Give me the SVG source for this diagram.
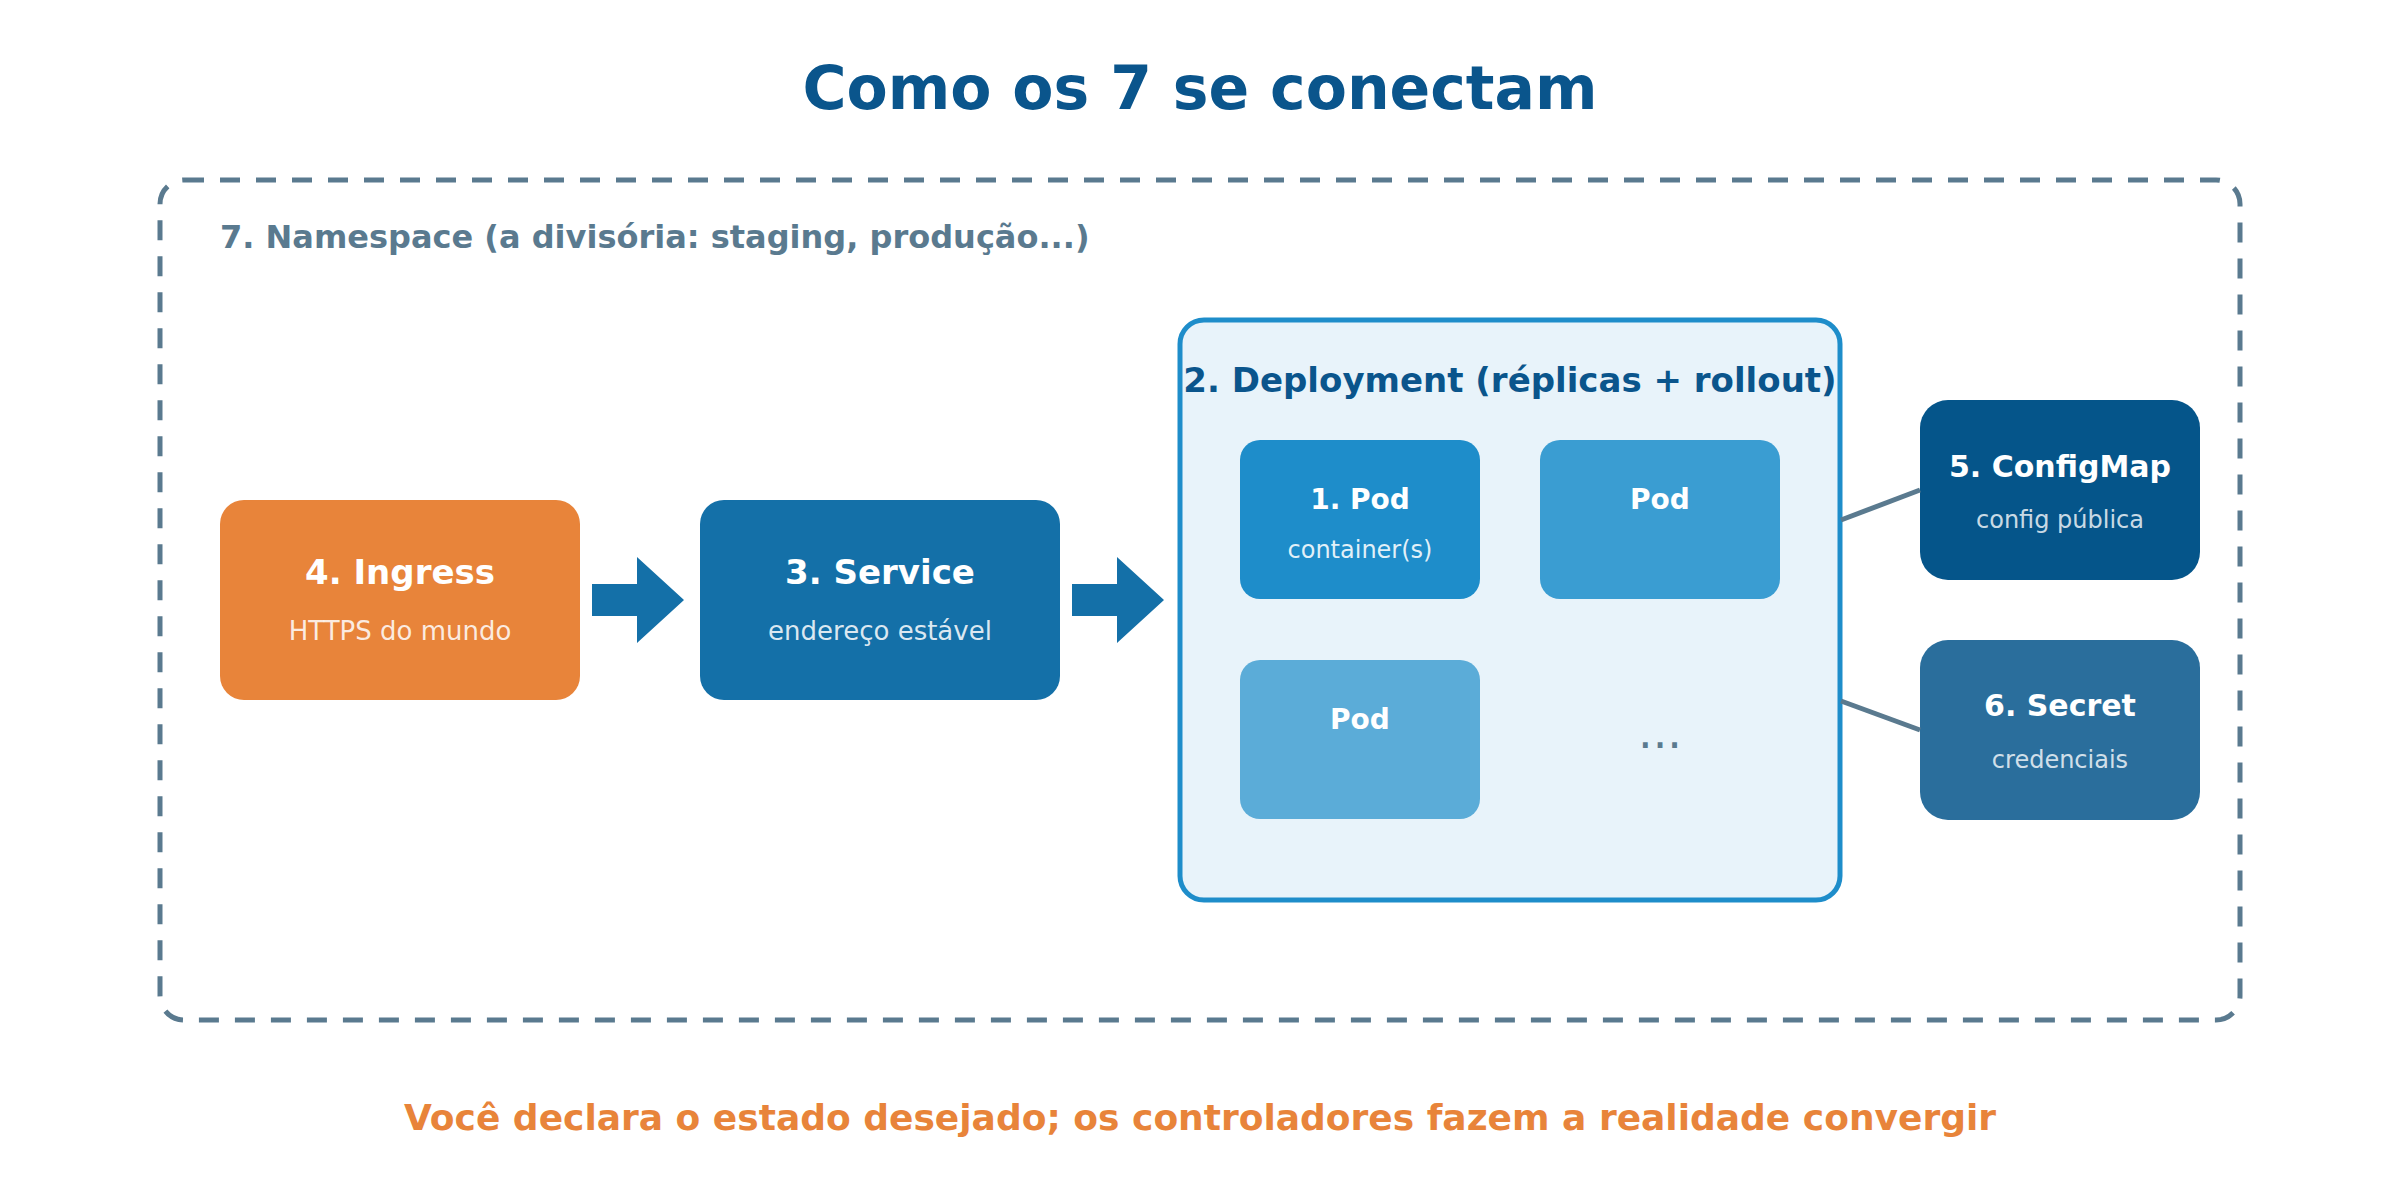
<svg xmlns="http://www.w3.org/2000/svg" width="2400" height="1200" viewBox="0 0 2400 1200">
<style>
text{font-family:"DejaVu Sans","Liberation Sans",sans-serif;}
.b{font-weight:bold;}
.t{font-size:34px;font-weight:bold;fill:#ffffff;text-anchor:middle;}
.s{font-size:26px;fill:#ffffff;fill-opacity:0.85;text-anchor:middle;}
.pt{font-size:28px;font-weight:bold;fill:#ffffff;text-anchor:middle;}
.ps{font-size:24px;fill:#ffffff;fill-opacity:0.88;text-anchor:middle;}
.ct{font-size:30px;font-weight:bold;fill:#ffffff;text-anchor:middle;}
.cs{font-size:24px;fill:#ffffff;fill-opacity:0.8;text-anchor:middle;}
.conn{stroke:#5a7a8f;stroke-width:5;fill:none;}
.arr{fill:#1470a8;}
</style>
<rect width="2400" height="1200" fill="#ffffff"/>
<text x="1200" y="109" class="b" font-size="60" fill="#0a558c" text-anchor="middle">Como os 7 se conectam</text>
<g id="namespace">
<rect x="160" y="180" width="2080" height="840" rx="24" fill="none" stroke="#5a7a8f" stroke-width="5" stroke-dasharray="20 16"/>
<text x="220" y="248" class="b" font-size="32" fill="#5a7a8f">7. Namespace (a divisória: staging, produção...)</text>
</g>
<g id="ingress">
<rect x="220" y="500" width="360" height="200" rx="24" fill="#e8843a"/>
<text x="400" y="584" class="t">4. Ingress</text>
<text x="400" y="640" class="s">HTTPS do mundo</text>
</g>
<g id="service">
<rect x="700" y="500" width="360" height="200" rx="24" fill="#1470a8"/>
<text x="880" y="584" class="t">3. Service</text>
<text x="880" y="640" class="s">endereço estável</text>
</g>
<g id="deployment">
<rect x="1180" y="320" width="660" height="580" rx="24" fill="#e8f3fa" stroke="#1e8dca" stroke-width="5"/>
<text x="1510" y="392" class="b" font-size="34" fill="#0a558c" text-anchor="middle">2. Deployment (réplicas + rollout)</text>
</g>
<g id="pod1">
<rect x="1240" y="440" width="240" height="159" rx="20" fill="#1e8dca"/>
<text x="1360" y="509" class="pt">1. Pod</text>
<text x="1360" y="558" class="ps">container(s)</text>
</g>
<g id="pod2">
<rect x="1540" y="440" width="240" height="159" rx="20" fill="#3a9dd2"/>
<text x="1660" y="509" class="pt">Pod</text>
</g>
<g id="pod3">
<rect x="1240" y="660" width="240" height="159" rx="20" fill="#5bacd8"/>
<text x="1360" y="729" class="pt">Pod</text>
</g>
<g id="more">
<text x="1660" y="748" font-size="46" fill="#5a7a8f" text-anchor="middle">...</text>
</g>
<g id="configmap">
<rect x="1920" y="400" width="280" height="180" rx="28" fill="#05558a"/>
<text x="2060" y="477" class="ct">5. ConfigMap</text>
<text x="2060" y="528" class="cs">config pública</text>
</g>
<g id="secret">
<rect x="1920" y="640" width="280" height="180" rx="28" fill="#2a6e9c"/>
<text x="2060" y="716" class="ct">6. Secret</text>
<text x="2060" y="768" class="cs">credenciais</text>
</g>
<g id="connectors">
<polygon class="arr" points="592,584 637,584 637,557 684,600 637,643 637,616 592,616"/>
<polygon class="arr" points="1072,584 1117,584 1117,557 1164,600 1117,643 1117,616 1072,616"/>
<line class="conn" x1="1841" y1="520" x2="1920" y2="490"/>
<line class="conn" x1="1841" y1="701" x2="1920" y2="730"/>
</g>
<text x="1200" y="1130" class="b" font-size="36" fill="#e8843a" text-anchor="middle">Você declara o estado desejado; os controladores fazem a realidade convergir</text>
</svg>
